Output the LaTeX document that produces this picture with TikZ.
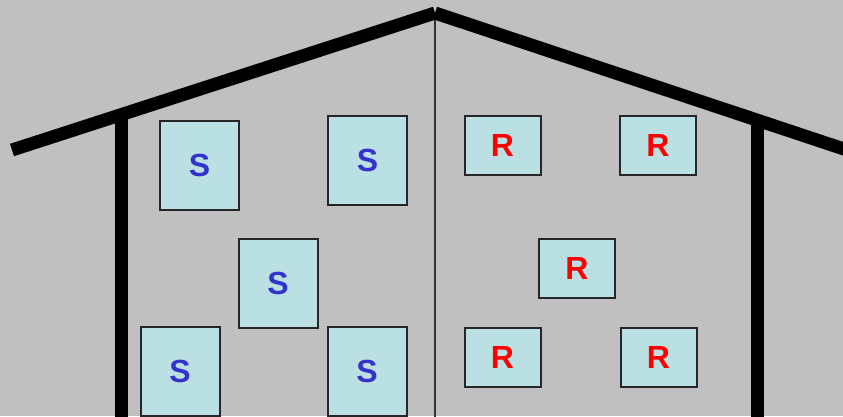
\documentclass[tikz,border=0pt]{standalone}
\usepackage{fontspec}
\setmainfont{Liberation Sans}
\definecolor{wallgray}{RGB}{192,192,192}
\definecolor{roomfill}{RGB}{187,224,227}
\definecolor{sblue}{RGB}{51,51,204}
\begin{document}
\begin{tikzpicture}[x=1pt, y=-1pt,
    room/.style={draw=black!85, line width=2pt, fill=roomfill, inner sep=0pt,
      font=\fontsize{32}{32}\selectfont\bfseries},
    sroom/.style={room, text=sblue, minimum width=79pt, minimum height=89pt},
    rroom/.style={room, text=red, minimum width=76pt, minimum height=59pt},
    beam/.style={line width=13pt}]
    \useasboundingbox (0,0) rectangle (843,416);
    \clip (0,0) rectangle (843,416);
    \fill[wallgray] (0,0) rectangle (843,416);
    % house outline
    \coordinate (apex) at (435,13);
    \coordinate (eaveL) at (12,150);
    \coordinate (eaveR) at (850,151);
    \coordinate (floor) at (435,420);
    \draw[line width=1.5pt, black!80] (apex) -- (floor);
    \draw[line width=13pt] (121,112) -- (121,420);
    \draw[line width=13pt] (757,116) -- (757,420);
    \draw[beam] (eaveL) -- (apex);
    \draw[beam] (apex) -- (eaveR);
    % rooms
    \node[sroom] (s1) at (199.5,165.5) {S};
    \node[sroom] (s2) at (367.5,160) {S};
    \node[sroom] (s3) at (278,283.5) {S};
    \node[sroom] (s4) at (180,371.5) {S};
    \node[sroom] (s5) at (367,371.5) {S};
    \node[rroom] (r1) at (502.5,145) {R};
    \node[rroom] (r2) at (658,145) {R};
    \node[rroom] (r3) at (577,268.5) {R};
    \node[rroom] (r4) at (502.5,357) {R};
    \node[rroom] (r5) at (658.5,357) {R};
\end{tikzpicture}
\end{document}
